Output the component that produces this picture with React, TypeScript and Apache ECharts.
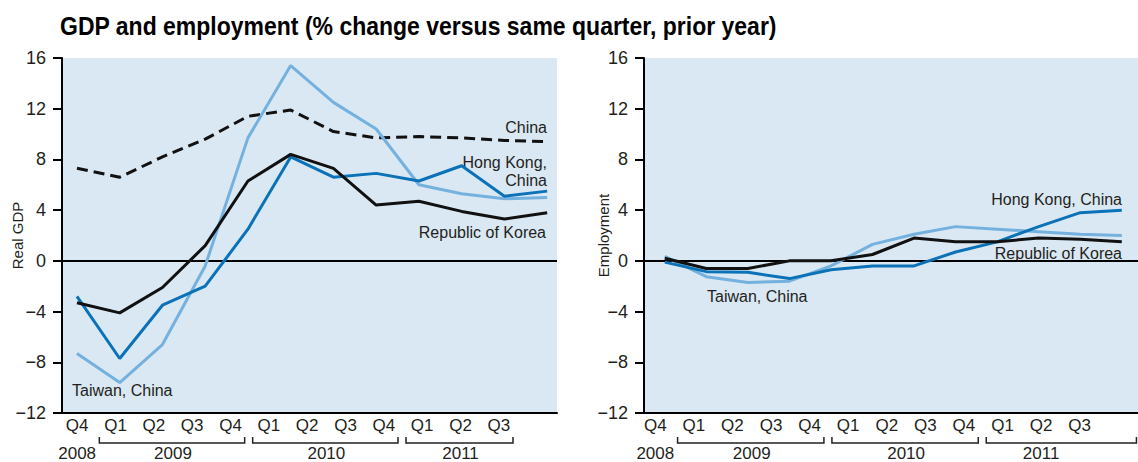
import React, { useEffect, useRef } from "react";
import * as echarts from "echarts";

// ---- data ----
const quarterLabels = ["Q4", "Q1", "Q2", "Q3", "Q4", "Q1", "Q2", "Q3", "Q4", "Q1", "Q2", "Q3"];
const yearLabels = ["2008", "2009", "2010", "2011"];
const yearCenters = [0, 2.5, 6.5, 10];

const gdpChina = [7.3, 6.6, 8.2, 9.6, 11.4, 11.9, 10.2, 9.7, 9.8, 9.7, 9.5, 9.4];
const gdpHongKong = [-2.8, -7.7, -3.5, -2.0, 2.5, 8.2, 6.6, 6.9, 6.3, 7.5, 5.1, 5.5];
const gdpKorea = [-3.3, -4.1, -2.1, 1.2, 6.3, 8.4, 7.3, 4.4, 4.7, 3.9, 3.3, 3.8];
const gdpTaiwan = [-7.3, -9.6, -6.6, -0.4, 9.7, 15.4, 12.5, 10.4, 6.0, 5.3, 4.9, 5.0];

const empHongKong = [-0.1, -0.85, -0.9, -1.4, -0.7, -0.4, -0.4, 0.7, 1.5, 2.7, 3.8, 4.0];
const empKorea = [0.2, -0.6, -0.6, 0.0, 0.0, 0.5, 1.8, 1.5, 1.5, 1.8, 1.7, 1.5];
const empTaiwan = [0.35, -1.25, -1.7, -1.6, -0.4, 1.3, 2.1, 2.7, 2.5, 2.3, 2.1, 2.0];

const Y_MIN = -12;
const Y_MAX = 16;
const Y_STEP = 4;

// ---- styling ----
const FONT = "'Liberation Sans', Arial, sans-serif";
const TXT = "#231f20";
const BG = "#dae8f3";
const C_BLACK = "#111111";
const C_HK = "#0b72b8";
const C_TW = "#74b1de";

const PLOT_TOP = 58;
const PLOT_H = 355;

const panels = [
  { dataLeft: 62, dataWidth: 495, xMin: -0.35, xMax: 11.23, labLeft: 58, labWidth: 460, yName: "Real GDP", nameGap: 37, bracketSpans: [[0.5, 4.5], [4.5, 8.5], [8.5, 11.5]] },
  { dataLeft: 644, dataWidth: 494, xMin: -0.5, xMax: 11.39, labLeft: 636, labWidth: 463, yName: "Employment", nameGap: 33, bracketSpans: [[0.5, 4.5], [4.5, 8.5], [8.5, 12.6]] },
];

const pts = (arr: number[]) => arr.map((v, i) => [i, v]);

export default function App() {
  const ref = useRef<HTMLDivElement>(null);

  useEffect(() => {
    if (!ref.current) return;
    const chart = echarts.init(ref.current, null, { renderer: "svg" });

    const grids: any[] = [];
    const xAxes: any[] = [];
    const yAxes: any[] = [];

    panels.forEach((p) => {
      grids.push({ left: p.dataLeft, top: PLOT_TOP, width: p.dataWidth, height: PLOT_H, show: true, backgroundColor: BG, borderWidth: 0, borderColor: "transparent" });
    });
    panels.forEach((p) => {
      grids.push({ left: p.labLeft, top: PLOT_TOP, width: p.labWidth, height: PLOT_H, show: false });
    });

    panels.forEach((p, k) => {
      xAxes.push({
        type: "value", gridIndex: k, min: p.xMin, max: p.xMax,
        axisLine: { show: true, onZero: false, lineStyle: { color: "#000", width: 2 } },
        axisTick: { show: false }, axisLabel: { show: false }, splitLine: { show: false },
      });
      yAxes.push({
        type: "value", gridIndex: k, min: Y_MIN, max: Y_MAX, interval: Y_STEP,
        name: p.yName, nameLocation: "middle", nameRotate: 90, nameGap: p.nameGap,
        nameMoveOverlap: false,
        nameTextStyle: { fontFamily: FONT, fontSize: 15, color: TXT },
        axisLine: { show: true, onZero: false, lineStyle: { color: "#000", width: 2 } },
        axisTick: { show: true, length: 9, lineStyle: { color: "#000", width: 2 } },
        axisLabel: {
          fontFamily: FONT, fontSize: 18, color: TXT, margin: 16,
          formatter: (v: number) => String(v).replace("-", "\u2212"),
        },
        splitLine: { show: false },
      });
    });
    panels.forEach((p, k) => {
      const g = k + 2;
      xAxes.push({
        type: "category", gridIndex: g, data: quarterLabels, boundaryGap: true, position: "bottom",
        axisLine: { show: false }, axisTick: { show: false }, splitLine: { show: false },
        axisLabel: { fontFamily: FONT, fontSize: 17, color: TXT, margin: 5, interval: 0 },
      });
      xAxes.push({
        type: "value", gridIndex: g, min: -0.5, max: 11.5, interval: 0.5, position: "bottom", offset: 28,
        axisLine: { show: false }, axisTick: { show: false }, splitLine: { show: false },
        axisLabel: {
          fontFamily: FONT, fontSize: 17, color: TXT, margin: 5,
          formatter: (v: number) => {
            const idx = yearCenters.findIndex((c) => Math.abs(c - v) < 1e-6);
            return idx >= 0 ? yearLabels[idx] : "";
          },
        },
      });
      yAxes.push({ type: "value", gridIndex: g, min: 0, max: 1, show: false });
    });

    const line = (name: string, data: number[], color: string, axis: number, dashed = false, zero = false) => ({
      name, type: "line", xAxisIndex: axis, yAxisIndex: axis, data: pts(data),
      symbol: "none", lineStyle: { color, width: 3, type: dashed ? [11, 6] : "solid" },
      z: 3,
      markLine: zero ? {
        silent: true, symbol: "none", label: { show: false }, z: 2,
        lineStyle: { color: "#000", width: 2, type: "solid" },
        data: [{ yAxis: 0 }],
      } : undefined,
    });

    const series = [
      line("China", gdpChina, C_BLACK, 0, true, true),
      line("Taiwan, China", gdpTaiwan, C_TW, 0),
      line("Hong Kong, China", gdpHongKong, C_HK, 0),
      line("Republic of Korea", gdpKorea, C_BLACK, 0),
      line("Taiwan, China", empTaiwan, C_TW, 1, false, true),
      line("Hong Kong, China", empHongKong, C_HK, 1),
      line("Republic of Korea", empKorea, C_BLACK, 1),
    ];

    const graphics: any[] = [];
    graphics.push({
      type: "text", left: 60, top: 14, scaleX: 0.92,
      style: { text: "GDP and employment (% change versus same quarter, prior year)", fontFamily: FONT, fontWeight: "bold", fontSize: 25, fill: "#000" },
    });

    const ann = (text: string, x: number, y: number, align: string) => ({
      type: "text", x, y,
      style: { text, fontFamily: FONT, fontSize: 16, fill: TXT, align, verticalAlign: "middle" },
    });
    graphics.push(ann("China", 547, 127, "right"));
    graphics.push(ann("Hong Kong,", 547, 162, "right"));
    graphics.push(ann("China", 547, 180, "right"));
    graphics.push(ann("Republic of Korea", 546, 232, "right"));
    graphics.push(ann("Taiwan, China", 72, 390, "left"));
    graphics.push(ann("Hong Kong, China", 1122, 199, "right"));
    graphics.push(ann("Republic of Korea", 1122, 253, "right"));
    graphics.push(ann("Taiwan, China", 707, 296, "left"));

    panels.forEach((p) => {
      const unit = p.labWidth / 12;
      const xAt = (i: number) => p.labLeft + (i + 0.5) * unit;
      p.bracketSpans.forEach(([a, b]) => {
        const x1 = xAt(a) + 3;
        const x2 = xAt(b) - 5;
        graphics.push({
          type: "polyline",
          shape: { points: [[x1, 437], [x1, 443], [x2, 443], [x2, 437]] },
          style: { stroke: "#222", lineWidth: 1.5, fill: null },
        });
      });
    });

    chart.setOption({
      animation: false,
      backgroundColor: "#fff",
      textStyle: { fontFamily: FONT },
      grid: grids,
      xAxis: xAxes,
      yAxis: yAxes,
      series,
      graphic: graphics,
    });

    return () => chart.dispose();
  }, []);

  return <div ref={ref} style={{ position: "absolute", left: 0, top: 0, width: 1138, height: 462 }} />;
}
